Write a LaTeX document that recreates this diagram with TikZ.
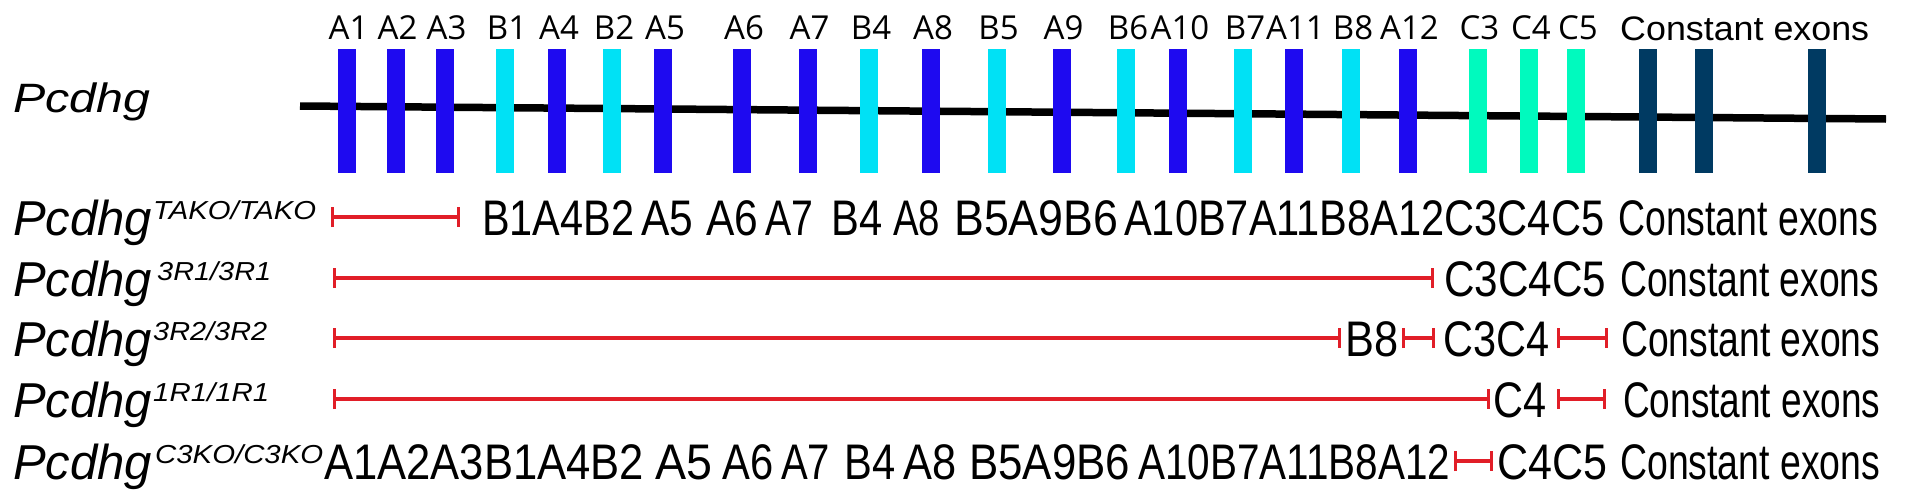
\documentclass[tikz,border=0pt]{standalone}
\usepackage{fontspec}
\usepackage{graphicx}
\setmainfont{Liberation Sans}
\newfontfamily\topfont{Open Sans}
\usetikzlibrary{arrows.meta}
\definecolor{exA}{RGB}{30,10,240}
\definecolor{exB}{RGB}{0,225,245}
\definecolor{exC}{RGB}{0,250,190}
\definecolor{exK}{RGB}{0,58,98}
\definecolor{delred}{RGB}{225,30,40}
\newcommand\fitw[2]{\resizebox{#1pt}{\height}{#2}}
\begin{document}
\begin{tikzpicture}[x=1pt,y=-1pt,
  exon/.style={draw=none, minimum width=18pt, minimum height=124pt, inner sep=0pt, anchor=north},
  toplab/.style={inner sep=0pt, anchor=base, font=\topfont\fontsize{33}{40}\selectfont},
  rowtxt/.style={inner sep=0pt, anchor=base west, font=\fontsize{50}{60}\selectfont},
  gene/.style={inner sep=0pt, anchor=base west, font=\itshape\fontsize{49}{60}\selectfont},
  supx/.style={inner sep=0pt, anchor=base west, font=\itshape\fontsize{26}{30}\selectfont},
  del/.style={draw=delred, line width=3.2pt, {Bar[width=20pt]}-{Bar[width=20pt]}}]
\useasboundingbox (0,0) rectangle (1920,501);
\fill[white] (0,0) rectangle (1920,501);

% gene line
\coordinate (l0) at (300,106);
\coordinate (l1) at (1886,119);
\draw[line width=7.5pt] (l0) -- (l1);

% exons
\foreach \n/\x/\c in {A1/346.5/exA, A2/395.5/exA, A3/444.5/exA, B1/505/exB, A4/557/exA,
  B2/612/exB, A5/663/exA, A6/742/exA, A7/807.5/exA, B4/869/exB, A8/931/exA,
  B5/996.5/exB, A9/1061.5/exA, B6/1126/exB, A10/1178/exA, B7/1243/exB,
  A11/1293.5/exA, B8/1351/exB, A12/1407.5/exA, C3/1477.5/exC, C4/1529/exC, C5/1576/exC}{
  \node[exon, fill=\c] (e\n) at (\x,49) {};
  \node[toplab] (lab\n) at (\x+2,39) {\n};
}
\node[exon, fill=exK] (eK1) at (1647.5,49) {};
\node[exon, fill=exK] (eK2) at (1704,49) {};
\node[exon, fill=exK] (eK3) at (1816.5,49) {};
\node[inner sep=0pt, anchor=base west, font=\fontsize{34}{40}\selectfont] (labK) at (1620,40) {\fitw{249}{Constant exons}};

% main label
\node[gene, font=\itshape\fontsize{41}{50}\selectfont] (g0) at (13,112) {\fitw{137}{Pcdhg}};

% Row TAKO
\node[gene] (g1) at (13,235) {Pcdhg};
\node[supx] (s1) at (153,219) {\fitw{163}{TAKO/TAKO}};
\coordinate (d1a) at (331,217); \coordinate (d1b) at (460,217);
\draw[del] (d1a) -- (d1b);
\node[rowtxt] (r1a) at (482,235) {\fitw{152}{B1A4B2}};
\node[rowtxt] (r1b) at (641,235) {\fitw{52}{A5}};
\node[rowtxt] (r1c) at (706,235) {\fitw{52}{A6}};
\node[rowtxt] (r1d) at (765,235) {\fitw{48}{A7}};
\node[rowtxt] (r1e) at (831,235) {\fitw{51}{B4}};
\node[rowtxt] (r1f) at (893,235) {\fitw{47}{A8}};
\node[rowtxt] (r1g) at (954,235) {\fitw{164}{B5A9B6}};
\node[rowtxt] (r1h) at (1124,235) {\fitw{480}{A10B7A11B8A12C3C4C5}};
\node[rowtxt] (r1i) at (1618,235) {\fitw{260}{Constant exons}};

% Row 3R1
\node[gene] (g2) at (13,296) {Pcdhg};
\node[supx] (s2) at (157,280) {\fitw{114}{3R1/3R1}};
\coordinate (d2a) at (333,278); \coordinate (d2b) at (1434,278);
\draw[del] (d2a) -- (d2b);
\node[rowtxt] (r2a) at (1444,296) {\fitw{162}{C3C4C5}};
\node[rowtxt] (r2b) at (1620,296) {\fitw{259}{Constant exons}};

% Row 3R2
\node[gene] (g3) at (13,356) {Pcdhg};
\node[supx] (s3) at (153,340) {\fitw{114}{3R2/3R2}};
\coordinate (d3a) at (333,338); \coordinate (d3b) at (1341,338);
\draw[del] (d3a) -- (d3b);
\node[rowtxt] (r3a) at (1345,356) {\fitw{53}{B8}};
\coordinate (d3c) at (1402,338); \coordinate (d3d) at (1435,338);
\draw[del] (d3c) -- (d3d);
\node[rowtxt] (r3b) at (1443,356) {\fitw{106}{C3C4}};
\coordinate (d3e) at (1557,338); \coordinate (d3f) at (1608,338);
\draw[del] (d3e) -- (d3f);
\node[rowtxt] (r3c) at (1621,356) {\fitw{259}{Constant exons}};

% Row 1R1
\node[gene] (g4) at (13,417) {Pcdhg};
\node[supx] (s4) at (153,401) {\fitw{116}{1R1/1R1}};
\coordinate (d4a) at (333,399); \coordinate (d4b) at (1490,399);
\draw[del] (d4a) -- (d4b);
\node[rowtxt] (r4a) at (1493,417) {\fitw{53}{C4}};
\coordinate (d4c) at (1557,399); \coordinate (d4d) at (1606,399);
\draw[del] (d4c) -- (d4d);
\node[rowtxt] (r4b) at (1623,417) {\fitw{257}{Constant exons}};

% Row C3KO
\node[gene] (g5) at (13,479) {Pcdhg};
\node[supx] (s5) at (155,463) {\fitw{168}{C3KO/C3KO}};
\node[rowtxt] (r5a) at (324,479) {\fitw{320}{A1A2A3B1A4B2}};
\node[rowtxt] (r5b) at (655,479) {\fitw{57}{A5}};
\node[rowtxt] (r5c) at (722,479) {\fitw{51}{A6}};
\node[rowtxt] (r5d) at (781,479) {\fitw{49}{A7}};
\node[rowtxt] (r5e) at (844,479) {\fitw{51}{B4}};
\node[rowtxt] (r5f) at (903,479) {\fitw{53}{A8}};
\node[rowtxt] (r5g) at (969,479) {\fitw{161}{B5A9B6}};
\node[rowtxt] (r5h) at (1138,479) {\fitw{312}{A10B7A11B8A12}};
\coordinate (d5a) at (1454,461); \coordinate (d5b) at (1493,461);
\draw[del] (d5a) -- (d5b);
\node[rowtxt] (r5i) at (1497,479) {\fitw{110}{C4C5}};
\node[rowtxt] (r5j) at (1620,479) {\fitw{260}{Constant exons}};
\end{tikzpicture}
\end{document}
